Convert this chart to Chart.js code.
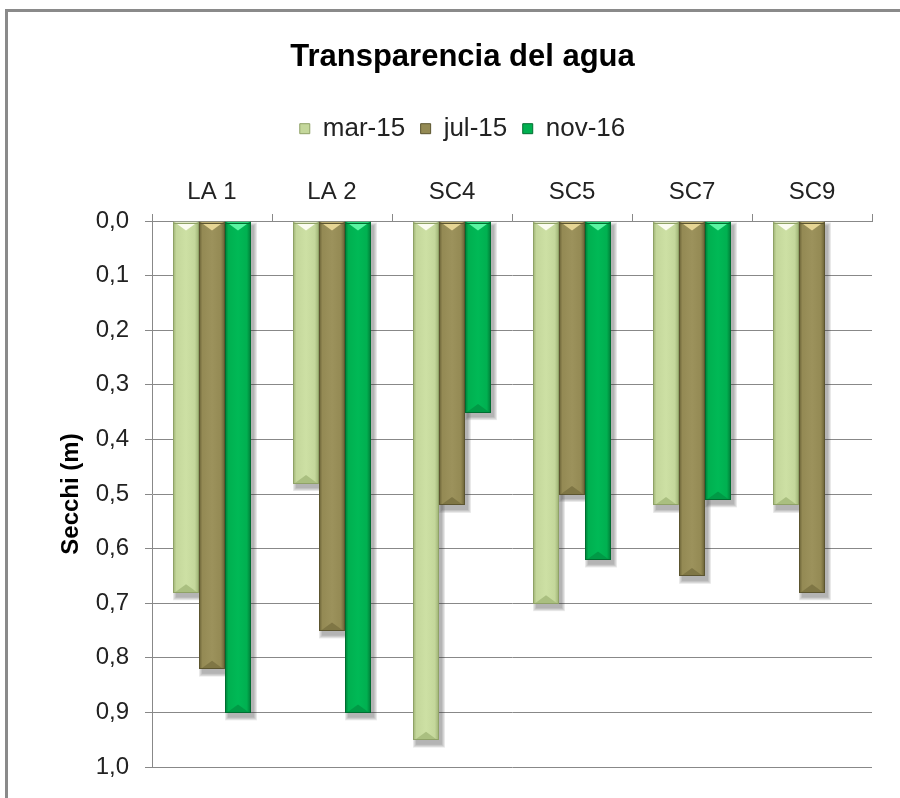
<!DOCTYPE html>
<html><head><meta charset="utf-8">
<script src="https://cdn.jsdelivr.net/npm/chart.js@4"></script>
<style>
html,body{margin:0;padding:0;background:#fff;}
#wrap{position:relative;width:900px;height:798px;overflow:hidden;background:#fff;}
#frame{position:absolute;left:5px;top:9px;width:900px;height:800px;border-left:3px solid #8a8a8a;border-top:3px solid #8a8a8a;pointer-events:none;}
canvas{position:absolute;left:0;top:0;}
</style></head><body>
<div id="wrap"><canvas id="c" width="900" height="798"></canvas><div id="frame"></div></div>
<script>
const categories = ['LA 1', 'LA 2', 'SC4', 'SC5', 'SC7', 'SC9'];
const seriesNames = ['mar-15', 'jul-15', 'nov-16'];
const mar15 = [0.68, 0.48, 0.95, 0.70, 0.52, 0.52];
const jul15 = [0.82, 0.75, 0.52, 0.50, 0.65, 0.68];
const nov16 = [0.90, 0.90, 0.35, 0.62, 0.51, null];
const yTickValues = [0.0, 0.1, 0.2, 0.3, 0.4, 0.5, 0.6, 0.7, 0.8, 0.9, 1.0];
const yTickLabels = ['0,0', '0,1', '0,2', '0,3', '0,4', '0,5', '0,6', '0,7', '0,8', '0,9', '1,0'];

const styles = [
  {base:'#c4d79b', light:'#cde0a4', dark:'#9cb072', top:'#fbfcf0', bottom:'#aabf80', border:'#8fa267'},
  {base:'#948a54', light:'#9c925c', dark:'#675f34', top:'#e6d595', bottom:'#7f7645', border:'#5c552f'},
  {base:'#00b050', light:'#00b956', dark:'#007a36', top:'#5af5a2', bottom:'#009a46', border:'#006d30'}
];

Chart.defaults.font.family = '"Liberation Sans", Arial, sans-serif';

const bevel = {
  id: 'bevel',
  afterDatasetsDraw(chart) {
    const ctx = chart.ctx;
    ctx.save();
    chart.data.datasets.forEach((ds, di) => {
      const meta = chart.getDatasetMeta(di);
      if (meta.hidden) return;
      const st = styles[di];
      meta.data.forEach((bar, i) => {
        if (ds.data[i] == null) return;
        const p = bar.getProps(['x', 'y', 'base', 'width'], true);
        const l = p.x - p.width / 2, r = p.x + p.width / 2, w = p.width;
        const t = Math.min(p.y, p.base) + 1, b = Math.max(p.y, p.base);
        // soft drop shadow built from stacked translucent rects
        ctx.fillStyle = 'rgba(60,60,60,0.09)';
        for (let s = 6; s >= 0; s -= 1.5) {
          ctx.fillRect(l + 3 - s / 2, t + 3 - s / 2, w + s, b - t + 2 + s);
        }
        const g = ctx.createLinearGradient(l, 0, r, 0);
        g.addColorStop(0, st.dark); g.addColorStop(0.13, st.base);
        g.addColorStop(0.5, st.light); g.addColorStop(0.84, st.base); g.addColorStop(1, st.dark);
        ctx.fillStyle = g;
        ctx.fillRect(l, t, w, b - t);
        const inset = 2, h = Math.min(8, (b - t) / 2);
        ctx.fillStyle = st.top;
        ctx.beginPath(); ctx.moveTo(l + inset, t); ctx.lineTo(r - inset, t); ctx.lineTo(p.x, t + h); ctx.closePath(); ctx.fill();
        ctx.fillStyle = st.bottom;
        ctx.beginPath(); ctx.moveTo(l + inset, b); ctx.lineTo(r - inset, b); ctx.lineTo(p.x, b - h); ctx.closePath(); ctx.fill();
        ctx.strokeStyle = st.border; ctx.lineWidth = 1;
        ctx.strokeRect(Math.round(l) + 0.5, Math.round(t) + 0.5, Math.round(w) - 1, Math.round(b - t) - 1);
      });
    });
    ctx.restore();
  }
};

const seriesData = [mar15, jul15, nov16];
new Chart(document.getElementById('c'), {
  type: 'bar',
  data: {
    labels: categories,
    datasets: seriesNames.map((n, i) => ({
      label: n,
      data: seriesData[i],
      backgroundColor: styles[i].base,
      borderColor: styles[i].border,
      borderWidth: 1,
      categoryPercentage: 0.65,
      barPercentage: 1.0
    }))
  },
  options: {
    responsive: false,
    animation: false,
    events: [],
    layout: {padding: {top: 20, left: 53, right: 28, bottom: 31}},
    plugins: {
      title: {display: true, text: 'Transparencia del agua', color: '#000',
        font: {size: 31, weight: 'bold'}, padding: {top: 19, bottom: 24}},
      legend: {display: true, position: 'top',
        labels: {boxWidth: 10, boxHeight: 10, padding: 15.5, color: '#222', font: {size: 26}}},
      tooltip: {enabled: false}
    },
    scales: {
      x: {
        position: 'top',
        grid: {display: true, drawOnChartArea: false, drawTicks: true, tickLength: 7, color: '#888', offset: true},
        border: {display: true, color: '#888', width: 1},
        ticks: {color: '#222', font: {size: 24}, padding: 7, maxRotation: 0, autoSkip: false},
        afterFit(s) { s.height = 69.3; }
      },
      y: {
        reverse: true, min: 0, max: 1,
        afterBuildTicks(s) { s.ticks = yTickValues.map(v => ({value: v})); },
        grid: {color: '#888', tickLength: 7, drawTicks: true},
        border: {display: true, color: '#888', width: 1},
        ticks: {color: '#222', font: {size: 24}, padding: 16, callback: (v, i) => yTickLabels[i]},
        title: {display: true, text: 'Secchi (m)', color: '#000', font: {size: 24, weight: 'bold'}, padding: {top: 4, bottom: 4}},
        afterFit(s) { s.width = 99; }
      }
    }
  },
  plugins: [bevel]
});
</script>
</body></html>
